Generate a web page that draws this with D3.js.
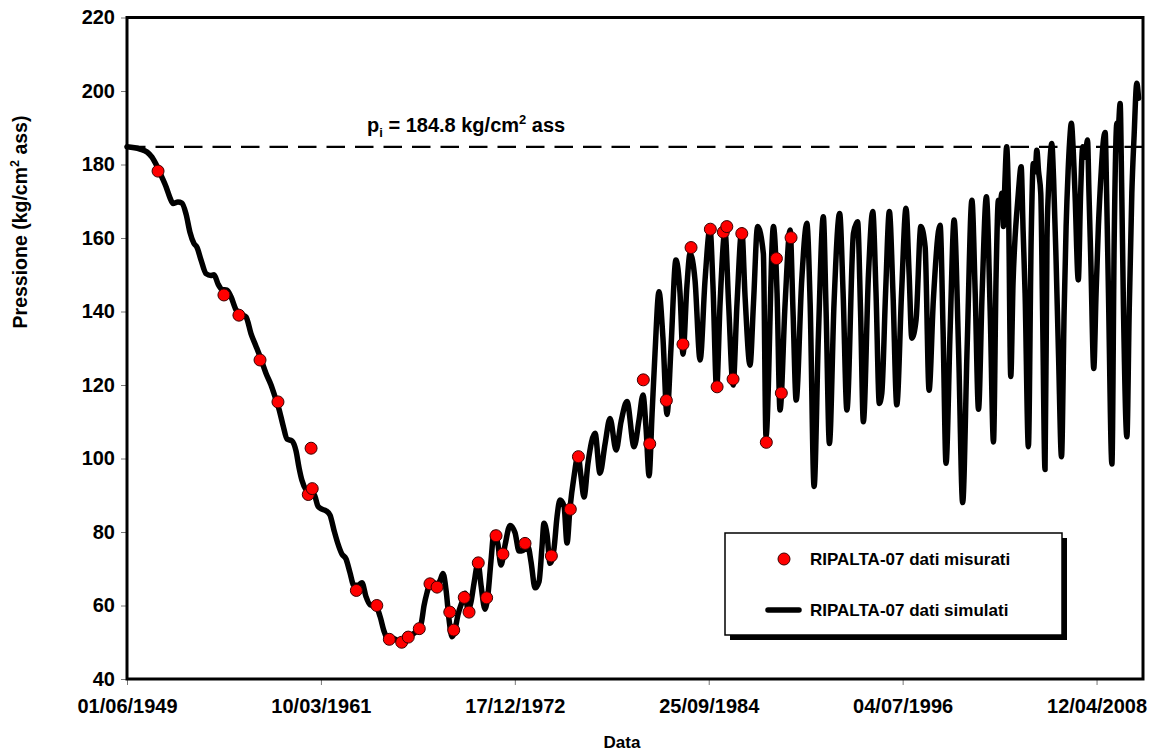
<!DOCTYPE html>
<html>
<head>
<meta charset="utf-8">
<script src="https://cdn.jsdelivr.net/npm/d3@7"></script>
<style>
  body { margin: 0; background: #fff; }
  svg { display: block; }
  text { font-family: "Liberation Sans", Arial, sans-serif; font-weight: bold; fill: #000; }
</style>
</head>
<body>
<svg id="chart" width="1154" height="755"></svg>
<script>
// Simulated reservoir pressure (decimal year, kg/cm2 ass)
const simYear = [
  1949.41, 1950.20, 1950.63, 1950.93, 1951.24, 1951.54, 1951.78, 1952.02, 1952.21, 1952.51,
  1952.75, 1953.00, 1953.24, 1953.48, 1953.66, 1953.91, 1954.21, 1954.51, 1954.70, 1954.94,
  1955.18, 1955.49, 1955.73, 1956.03, 1956.34, 1956.64, 1956.94, 1957.25, 1957.55, 1957.85,
  1958.16, 1958.40, 1958.64, 1958.89, 1959.13, 1959.43, 1959.68, 1959.86, 1960.04, 1960.28,
  1960.53, 1960.77, 1961.01, 1961.25, 1961.49, 1961.74, 1961.98, 1962.22, 1962.46, 1962.71,
  1962.95, 1963.19, 1963.44, 1963.68, 1963.92, 1964.17, 1964.53, 1964.78, 1965.02, 1965.26,
  1965.56, 1965.87, 1966.11, 1966.42, 1966.72, 1967.02, 1967.27, 1967.45, 1967.63, 1967.81,
  1968.06, 1968.24, 1968.42, 1968.60, 1968.79, 1968.97, 1969.15, 1969.33, 1969.51, 1969.76,
  1969.94, 1970.12, 1970.30, 1970.48, 1970.73, 1970.91, 1971.15, 1971.33, 1971.51, 1971.70,
  1971.94, 1972.12, 1972.37, 1972.67, 1972.97, 1973.22, 1973.46, 1973.76, 1973.94, 1974.19,
  1974.43, 1974.61, 1974.73, 1974.91, 1975.10, 1975.34, 1975.52, 1975.70, 1975.95, 1976.13,
  1976.31, 1976.55, 1976.80, 1976.98, 1977.16, 1977.40, 1977.83, 1978.13, 1978.44, 1978.74,
  1979.11, 1979.41, 1979.77, 1980.20, 1980.50, 1980.74, 1980.93, 1981.11, 1981.29, 1981.47,
  1981.71, 1981.95, 1982.20, 1982.44, 1982.74, 1982.99, 1983.17, 1983.41, 1983.60, 1983.90,
  1984.21, 1984.51, 1984.81, 1984.99, 1985.21, 1985.42, 1985.72, 1985.94, 1986.21, 1986.45,
  1986.74, 1986.94, 1987.24, 1987.45, 1987.70, 1988.05, 1988.21, 1988.66, 1988.88, 1989.06,
  1989.37, 1989.67, 1989.85, 1990.04, 1990.38, 1990.69, 1990.89, 1991.13, 1991.39, 1991.69,
  1991.86, 1992.06, 1992.34, 1992.68, 1992.89, 1993.12, 1993.52, 1993.77, 1993.95, 1994.12,
  1994.43, 1994.69, 1994.89, 1995.09, 1995.24, 1995.47, 1995.70, 1995.92, 1996.15, 1996.44,
  1996.71, 1996.90, 1997.06, 1997.32, 1997.61, 1997.87, 1998.11, 1998.37, 1998.78, 1998.96,
  1999.14, 1999.39, 1999.63, 1999.90, 2000.15, 2000.42, 2000.71, 2000.91, 2001.11, 2001.33,
  2001.59, 2001.82, 2002.02, 2002.18, 2002.32, 2002.42, 2002.53, 2002.62, 2002.72, 2002.82,
  2002.93, 2003.07, 2003.21, 2003.33, 2003.42, 2003.53, 2003.70, 2003.82, 2003.94, 2004.14,
  2004.31, 2004.44, 2004.55, 2004.65, 2004.76, 2004.89, 2005.00, 2005.15, 2005.27, 2005.35,
  2005.45, 2005.56, 2005.67, 2005.82, 2005.97, 2006.15, 2006.31, 2006.43, 2006.55, 2006.64,
  2006.75, 2006.85, 2006.97, 2007.17, 2007.31, 2007.44, 2007.58, 2007.73, 2007.82, 2007.93,
  2008.11, 2008.25, 2008.39, 2008.56, 2008.68, 2008.80, 2008.89, 2009.00, 2009.21, 2009.35,
  2009.51, 2009.59, 2009.71, 2009.80, 2009.91, 2010.12, 2010.26, 2010.42, 2010.56, 2010.72,
  2010.83
];
const simPressure = [
  184.8, 184.2, 183.4, 182.0, 179.5, 176.5, 174.0, 171.0, 169.4, 169.8,
  169.5, 166.5, 161.5, 158.5, 157.5, 154.0, 150.3, 149.8, 150.0, 147.5,
  146.0, 145.8, 144.0, 140.5, 139.2, 138.5, 134.0, 130.5, 127.0, 123.2,
  120.0, 116.8, 113.5, 109.0, 105.3, 104.8, 102.0, 97.5, 94.0, 91.5,
  90.7, 90.3, 87.0, 86.2, 85.8, 84.6, 80.5, 76.8, 74.0, 72.7,
  69.0, 65.5, 65.5, 66.2, 62.5, 60.2, 59.8, 57.0, 53.0, 50.8,
  51.0, 50.5, 50.2, 51.0, 52.0, 53.2, 55.0, 60.0, 63.5, 66.0,
  66.2, 65.2, 66.8, 68.7, 64.0, 56.0, 51.5, 53.5, 57.5, 61.0,
  63.3, 58.8, 61.0, 66.0, 71.5, 65.5, 59.0, 63.0, 72.0, 79.8,
  76.5, 71.0, 76.5, 81.8, 79.8, 74.8, 75.0, 76.0, 72.0, 64.8,
  66.5, 76.0, 82.4, 79.5, 71.5, 75.5, 84.0, 88.7, 87.0, 77.0,
  86.5, 95.0, 100.8, 95.0, 89.5, 98.7, 106.9, 96.0, 104.0, 110.9,
  102.3, 110.0, 115.5, 103.2, 110.5, 117.3, 108.0, 95.3, 112.0, 128.6,
  145.4, 133.0, 112.0, 130.0, 154.0, 145.0, 128.4, 147.0, 155.8, 148.6,
  126.8, 148.6, 162.6, 147.0, 119.0, 142.2, 161.8, 142.0, 120.0, 142.2,
  162.2, 144.0, 125.4, 142.2, 163.1, 155.8, 106.0, 163.1, 145.0, 113.2,
  142.2, 162.2, 140.0, 115.9, 148.6, 164.0, 142.2, 92.4, 133.1, 165.8,
  140.0, 104.1, 142.2, 166.7, 145.0, 113.2, 161.3, 164.4, 140.0, 110.0,
  150.0, 167.2, 145.0, 115.0, 117.7, 145.0, 167.2, 145.0, 114.6, 145.0,
  168.1, 150.0, 132.7, 137.7, 163.1, 157.6, 118.6, 143.1, 163.5, 135.0,
  98.7, 135.0, 164.9, 130.0, 88.0, 130.0, 170.3, 145.0, 113.4, 145.0,
  171.2, 140.0, 104.5, 150.0, 170.3, 169.0, 172.2, 163.1, 176.0, 184.8,
  170.3, 122.3, 148.0, 160.0, 166.0, 172.2, 179.4, 162.0, 145.0, 103.2,
  160.0, 180.3, 178.0, 183.9, 178.0, 172.2, 140.0, 97.0, 160.0, 172.2,
  181.0, 185.7, 176.0, 154.0, 128.0, 100.5, 140.0, 163.1, 178.0, 186.0,
  191.2, 185.0, 172.2, 148.6, 172.0, 184.8, 182.0, 186.7, 172.0, 154.0,
  124.5, 145.0, 163.1, 178.0, 186.0, 188.7, 172.0, 145.0, 98.5, 160.0,
  191.2, 190.0, 196.6, 175.0, 141.4, 105.9, 140.0, 172.2, 188.0, 202.1,
  198.0
];

// Measured pressures (decimal year, kg/cm2 ass)
const measYear = [
  1951.30, 1955.30, 1956.21, 1957.49, 1958.58, 1960.42, 1960.59, 1960.66, 1963.34, 1964.58,
  1965.34, 1966.09, 1966.49, 1967.16, 1967.81, 1968.24, 1969.01, 1969.25, 1969.89, 1970.18,
  1970.74, 1971.25, 1971.82, 1972.24, 1973.58, 1975.18, 1976.33, 1976.82, 1980.76, 1981.15,
  1982.16, 1983.17, 1983.66, 1984.83, 1985.24, 1985.62, 1985.83, 1986.21, 1986.74, 1988.23,
  1988.84, 1989.14, 1989.73
];
const measPressure = [
  178.2, 144.5, 139.0, 126.8, 115.4, 90.2, 102.8, 91.8, 64.1, 60.0,
  50.8, 50.0, 51.4, 53.7, 65.9, 65.0, 58.2, 53.3, 62.2, 58.2,
  71.6, 62.1, 79.0, 74.0, 76.9, 73.5, 86.2, 100.5, 121.4, 104.0,
  115.8, 131.1, 157.4, 162.4, 119.5, 161.6, 163.1, 121.6, 161.2, 104.4,
  154.4, 117.8, 160.1
];

const xTickLabels = ["01/06/1949", "10/03/1961", "17/12/1972", "25/09/1984", "04/07/1996", "12/04/2008"];
const xDomainLabels = ["01/06/1949", "06/02/2011"];
const yTicks = [40, 60, 80, 100, 120, 140, 160, 180, 200, 220];
const initialPressure = 184.8;

const parseDMY = d3.utcParse("%d/%m/%Y");
function fromDecimalYear(v) {
  const y = Math.floor(v);
  const a = Date.UTC(y, 0, 1), b = Date.UTC(y + 1, 0, 1);
  return new Date(a + (v - y) * (b - a));
}

const W = 1154, H = 755;
const margin = { left: 127, top: 17.5, right: 11, bottom: 76 };
const svg = d3.select("#chart");

const x = d3.scaleUtc()
  .domain(xDomainLabels.map(parseDMY))
  .range([margin.left, W - margin.right]);
const y = d3.scaleLinear()
  .domain([40, 220])
  .range([H - margin.bottom, margin.top]);

// tick marks and labels
const xAxis = d3.axisBottom(x)
  .tickValues(xTickLabels.map(parseDMY))
  .tickFormat(d3.utcFormat("%d/%m/%Y"))
  .tickSize(6)
  .tickPadding(14);
const gx = svg.append("g")
  .attr("transform", `translate(0,${y(40)})`)
  .call(xAxis);
gx.select(".domain").remove();
gx.selectAll(".tick line").attr("stroke", "#777").attr("stroke-width", 1);
gx.selectAll(".tick text")
  .attr("font-size", 20)
  .attr("font-family", "'Liberation Sans', Arial, sans-serif")
  .attr("font-weight", "bold")
  .attr("fill", "#000");

const yAxis = d3.axisLeft(y)
  .tickValues(yTicks)
  .tickSize(6)
  .tickPadding(6);
const gy = svg.append("g")
  .attr("transform", `translate(${x.range()[0]},0)`)
  .call(yAxis);
gy.select(".domain").remove();
gy.selectAll(".tick line").attr("stroke", "#777").attr("stroke-width", 1);
gy.selectAll(".tick text")
  .attr("font-size", 20)
  .attr("font-family", "'Liberation Sans', Arial, sans-serif")
  .attr("font-weight", "bold")
  .attr("fill", "#000");

// plot frame
svg.append("rect")
  .attr("x", x.range()[0])
  .attr("y", y(220))
  .attr("width", x.range()[1] - x.range()[0])
  .attr("height", y(40) - y(220))
  .attr("fill", "none")
  .attr("stroke", "#000")
  .attr("stroke-width", 3);

// initial pressure reference
svg.append("line")
  .attr("x1", x.range()[0]).attr("x2", x.range()[1])
  .attr("y1", y(initialPressure)).attr("y2", y(initialPressure))
  .attr("stroke", "#000")
  .attr("stroke-width", 2.3)
  .attr("stroke-dasharray", "18.5,10");

const note = svg.append("text")
  .attr("x", 367)
  .attr("y", y(initialPressure) - 15)
  .attr("font-size", 20);
note.append("tspan").text("p");
note.append("tspan").attr("font-size", 13).attr("dy", 5).text("i");
note.append("tspan").attr("dy", -5).text(` = ${initialPressure} kg/cm`);
note.append("tspan").attr("font-size", 13).attr("dy", -8).text("2");
note.append("tspan").attr("dy", 8).text(" ass");

// simulated curve
const simData = simYear.map((t, i) => ({ date: fromDecimalYear(t), p: simPressure[i] }));
const line = d3.line()
  .x(d => x(d.date))
  .y(d => y(d.p))
  .curve(d3.curveMonotoneX);
svg.append("path")
  .datum(simData)
  .attr("d", line)
  .attr("fill", "none")
  .attr("stroke", "#000")
  .attr("stroke-width", 5.5)
  .attr("stroke-linejoin", "round")
  .attr("stroke-linecap", "round");

// measured points
const measData = measYear.map((t, i) => ({ date: fromDecimalYear(t), p: measPressure[i] }));
svg.append("g")
  .selectAll("circle")
  .data(measData)
  .join("circle")
  .attr("cx", d => x(d.date))
  .attr("cy", d => y(d.p))
  .attr("r", 6)
  .attr("fill", "#ff0000")
  .attr("stroke", "#3a0000")
  .attr("stroke-width", 1);

// axis titles
svg.append("text")
  .attr("transform", "translate(27,222) rotate(-90)")
  .attr("text-anchor", "middle")
  .attr("font-size", 19.5)
  .call(t => {
    t.append("tspan").text("Pressione (kg/cm");
    t.append("tspan").attr("font-size", 12.5).attr("dy", -8).text("2");
    t.append("tspan").attr("dy", 8).text(" ass)");
  });

svg.append("text")
  .attr("x", 622)
  .attr("y", 748)
  .attr("text-anchor", "middle")
  .attr("font-size", 17)
  .text("Data");

// legend
const lg = svg.append("g").attr("transform", "translate(725,533)");
lg.append("rect").attr("x", 5).attr("y", 5).attr("width", 337).attr("height", 102).attr("fill", "#000");
lg.append("rect").attr("width", 337).attr("height", 102).attr("fill", "#fff").attr("stroke", "#000").attr("stroke-width", 1.5);
lg.append("circle").attr("cx", 59).attr("cy", 26).attr("r", 6)
  .attr("fill", "#ff0000").attr("stroke", "#3a0000").attr("stroke-width", 1);
lg.append("text").attr("x", 85).attr("y", 32).attr("font-size", 17).text("RIPALTA-07 dati misurati");
lg.append("line").attr("x1", 43).attr("x2", 74).attr("y1", 77).attr("y2", 77)
  .attr("stroke", "#000").attr("stroke-width", 5.5).attr("stroke-linecap", "round");
lg.append("text").attr("x", 85).attr("y", 83).attr("font-size", 17).text("RIPALTA-07 dati simulati");
</script>
</body>
</html>
